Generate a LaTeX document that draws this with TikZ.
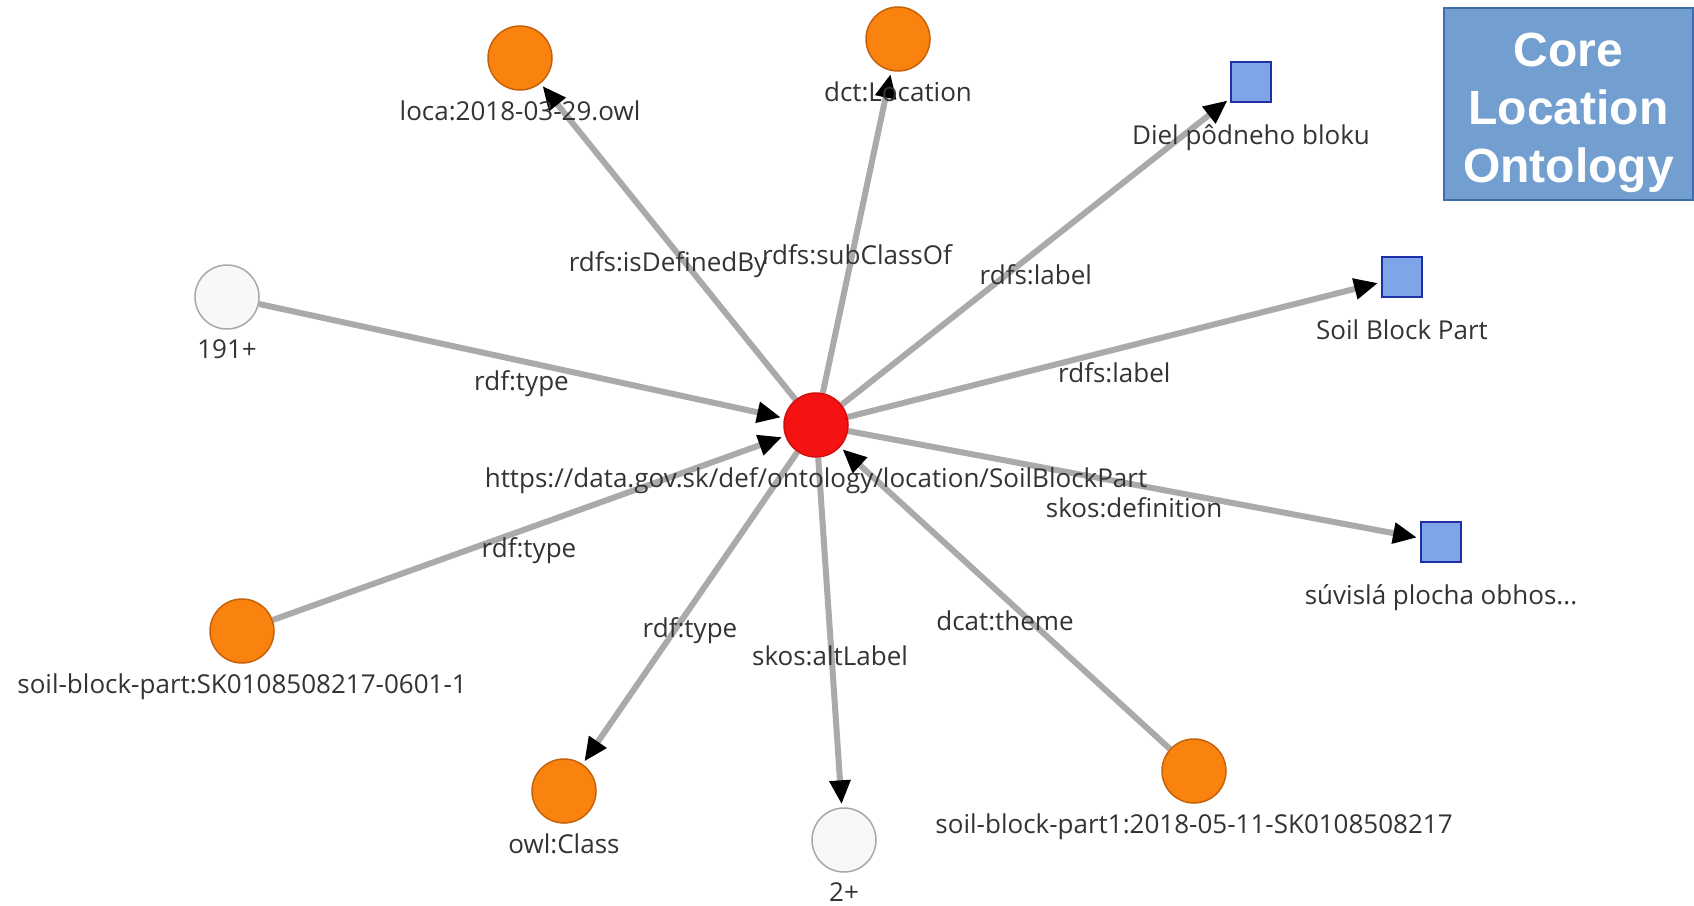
\documentclass[tikz,border=0pt]{standalone}
\usepackage{fontspec}
\setmainfont{Open Sans}
\newfontfamily\titlefont{Liberation Sans}
\usetikzlibrary{arrows.meta}

\pgfdeclarelayer{bg}
\pgfsetlayers{bg,main}

\definecolor{orangefill}{HTML}{FA820F}
\definecolor{orangeline}{HTML}{C4620C}
\definecolor{redfill}{HTML}{F41212}
\definecolor{redline}{HTML}{D00E0E}
\definecolor{blankfill}{HTML}{F8F8FB}
\definecolor{blankline}{HTML}{A8A8A8}
\definecolor{litfill}{HTML}{7DA5E8}
\definecolor{litline}{HTML}{1E2FA8}
\definecolor{edgegray}{HTML}{AAAAAA}
\definecolor{textgray}{HTML}{333333}
\definecolor{titlefill}{HTML}{729FCF}
\definecolor{titleline}{HTML}{3E6DAA}

\tikzset{
  res/.style={circle, draw=orangeline, fill=orangefill, line width=1.5pt,
    minimum size=64pt, inner sep=0pt},
  focus/.style={res, draw=redline, fill=redfill},
  more/.style={res, draw=blankline, fill=blankfill},
  lit/.style={rectangle, draw=litline, fill=litfill, line width=2pt,
    minimum size=40pt, inner sep=0pt},
  every label/.style={text=textgray},
  clbl/.style={yshift=-6.5pt},
  slbl/.style={yshift=-18pt},
  rel/.style={draw=edgegray, line width=6pt, shorten >=3pt,
    -{Triangle[length=24pt,width=20pt,color=black]}},
  rellbl/.style={midway, yshift=-23pt, text=textgray, inner sep=0pt}
}

\begin{document}
\begin{tikzpicture}[x=1pt, y=-1pt, font=\fontsize{26}{30}\selectfont, text=textgray]
  \useasboundingbox (0,0) rectangle (1694,905);

  % title box
  \node[draw=titleline, fill=titlefill, line width=1.2pt, minimum width=249pt,
    minimum height=192pt] (titlebox) at (1568.5,104) {};
  \node[text=white, align=center, inner sep=0pt,
    font=\titlefont\bfseries\fontsize{48}{58}\selectfont] (title)
    at ([yshift=-9pt]titlebox.center) {Core\\Location\\Ontology};

  % nodes
  \node[focus, label={[clbl]below:https://data.gov.sk/def/ontology/location/SoilBlockPart}] (part) at (816,425) {};
  \node[res, label={[clbl]below:loca:2018-03-29.owl}] (loca) at (520,58) {};
  \node[res, label={[clbl]below:dct:Location}] (dctloc) at (898,39) {};
  \node[lit, label={[slbl]below:Diel pôdneho bloku}] (labelsk) at (1251,82) {};
  \node[lit, label={[slbl]below:Soil Block Part}] (labelen) at (1402,277) {};
  \node[lit, label={[slbl]below:súvislá plocha obhos...}] (defn) at (1441,542) {};
  \node[more, label={[clbl]below:191+}] (inst) at (227,297) {};
  \node[res, label={[clbl]below:soil-block-part:SK0108508217-0601-1}] (sbp) at (242,631) {};
  \node[res, label={[clbl]below:owl:Class}] (owlclass) at (564,791) {};
  \node[more, label={[clbl]below:2+}] (alt) at (844,840) {};
  \node[res, label={[clbl]below:soil-block-part1:2018-05-11-SK0108508217}] (sbpone) at (1194,771) {};

  % edges
  \begin{pgfonlayer}{bg}
    \draw[rel] (part) -- (loca) node[rellbl] {rdfs:isDefinedBy};
    \draw[rel] (part) -- (dctloc) node[rellbl] {rdfs:subClassOf};
    \draw[rel] (part) -- (labelsk) node[rellbl] {rdfs:label};
    \draw[rel] (part) -- (labelen) node[rellbl] {rdfs:label};
    \draw[rel] (part) -- (defn) node[rellbl] {skos:definition};
    \draw[rel] (part) -- (alt) node[rellbl] {skos:altLabel};
    \draw[rel] (part) -- (owlclass) node[rellbl] {rdf:type};
    \draw[rel] (inst) -- (part) node[rellbl] {rdf:type};
    \draw[rel] (sbp) -- (part) node[rellbl] {rdf:type};
    \draw[rel] (sbpone) -- (part) node[rellbl] {dcat:theme};
  \end{pgfonlayer}
\end{tikzpicture}
\end{document}
